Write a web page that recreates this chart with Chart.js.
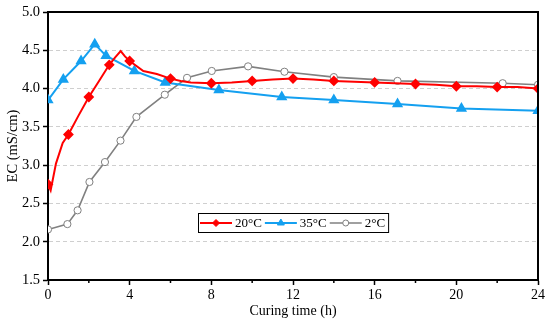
<!DOCTYPE html>
<html>
<head>
<meta charset="utf-8">
<script src="https://cdn.jsdelivr.net/npm/chart.js@4.4.0/dist/chart.umd.min.js"></script>
<style>
  html, body { margin: 0; padding: 0; background: #fff; }
  #wrap { width: 550px; height: 323px; }
</style>
</head>
<body>
<div id="wrap"><canvas id="myChart" width="550" height="323"></canvas></div>
<script>
// 20°C - dense record, markers only at some times
const redTime = [0, 0.13, 0.39, 0.72, 1, 1.5, 2, 2.5, 3, 3.3, 3.56, 3.77, 4, 4.67, 5.33, 6, 6.5, 7, 8, 9, 10, 11, 12, 13, 14, 15, 16, 17, 18, 19, 20, 21, 22, 23, 24];
const redEC = [2.75, 2.67, 3.02, 3.29, 3.40, 3.65, 3.89, 4.10, 4.31, 4.41, 4.49, 4.42, 4.36, 4.23, 4.19, 4.13, 4.10, 4.08, 4.07, 4.08, 4.10, 4.12, 4.13, 4.12, 4.10, 4.09, 4.08, 4.07, 4.06, 4.05, 4.03, 4.03, 4.02, 4.02, 4.00];
const redMarkers = [0, 1, 2, 3, 4, 6, 8, 10, 12, 14, 16, 18, 20, 22, 24];

// 35°C
const blueTime = [0, 0.75, 1.62, 2.29, 2.84, 4.23, 5.74, 8.37, 11.45, 14, 17.12, 20.25, 24];
const blueEC = [3.85, 4.12, 4.36, 4.58, 4.43, 4.23, 4.08, 3.98, 3.89, 3.85, 3.80, 3.74, 3.71];

// 2°C
const grayTime = [0, 0.95, 1.45, 2.03, 2.79, 3.55, 4.33, 5.72, 6.81, 8.02, 9.8, 11.58, 14, 17.12, 22.27, 24];
const grayEC = [2.16, 2.23, 2.41, 2.78, 3.04, 3.32, 3.63, 3.92, 4.14, 4.23, 4.29, 4.22, 4.15, 4.10, 4.07, 4.05];

const xTicks = [0, 4, 8, 12, 16, 20, 24];
const FONT = "'Liberation Serif', 'Times New Roman', serif";

function toPoints(xs, ys) {
    return xs.map((x, i) => ({ x: x, y: ys[i] }));
}

const frameAndLegend = {
    id: 'frameAndLegend',
    afterDraw(chart) {
        const { ctx, chartArea, scales } = chart;
        ctx.save();
        // top/right frame
        ctx.strokeStyle = '#000';
        ctx.lineWidth = 2;
        ctx.beginPath();
        ctx.moveTo(chartArea.left - 1, chartArea.top);
        ctx.lineTo(chartArea.right, chartArea.top);
        ctx.lineTo(chartArea.right, chartArea.bottom + 1);
        ctx.stroke();

        // short minor ticks on x axis
        ctx.lineWidth = 1.5;
        for (let t = 2; t < 24; t += 4) {
            const px = scales.x.getPixelForValue(t);
            ctx.beginPath();
            ctx.moveTo(px, chartArea.bottom);
            ctx.lineTo(px, chartArea.bottom + 3);
            ctx.stroke();
        }

        // legend box
        ctx.font = '13px ' + FONT;
        const items = chart.data.datasets;
        const lineLen = 32;
        let w = 2;
        items.forEach((d) => { w += lineLen + 3 + ctx.measureText(d.label).width + 3; });
        const h = 19;
        const left = Math.round((chartArea.left + chartArea.right) / 2 - w / 2);
        const top = chartArea.bottom - 67;
        ctx.fillStyle = '#fff';
        ctx.fillRect(left, top, w, h);
        ctx.lineWidth = 1;
        ctx.strokeStyle = '#000';
        ctx.strokeRect(left + 0.5, top + 0.5, w, h);

        let x = left + 2;
        const cy = top + h / 2 + 0.5;
        items.forEach((d) => {
            ctx.strokeStyle = d.borderColor;
            ctx.lineWidth = d.borderWidth;
            ctx.beginPath();
            ctx.moveTo(x, cy);
            ctx.lineTo(x + lineLen, cy);
            ctx.stroke();
            ctx.fillStyle = d.pointBackgroundColor;
            ctx.strokeStyle = d.pointBorderColor;
            ctx.lineWidth = 1;
            Chart.helpers.drawPoint(ctx, {
                pointStyle: d.pointStyle,
                radius: d.legendRadius,
                borderWidth: 1
            }, x + lineLen / 2, cy);
            x += lineLen + 3;
            ctx.fillStyle = '#000';
            ctx.textBaseline = 'middle';
            ctx.fillText(d.label, x, cy + 1);
            x += ctx.measureText(d.label).width + 3;
        });
        ctx.restore();
    }
};

const ctx = document.getElementById('myChart');

const chart = new Chart(ctx, {
    type: 'line',
    data: {
        datasets: [{
            label: '20°C',
            data: toPoints(redTime, redEC),
            borderColor: '#ff0000',
            backgroundColor: '#ff0000',
            pointBackgroundColor: '#ff0000',
            pointBorderColor: '#ff0000',
            borderWidth: 2,
            pointStyle: 'rectRot',
            legendRadius: 3.5,
            pointRadius: (c) => (c.raw && redMarkers.includes(c.raw.x) ? 4 : 0),
            tension: 0,
        }, {
            label: '35°C',
            data: toPoints(blueTime, blueEC),
            borderColor: '#14a0f0',
            backgroundColor: '#14a0f0',
            pointBackgroundColor: '#14a0f0',
            pointBorderColor: '#14a0f0',
            borderWidth: 2,
            pointStyle: 'triangle',
            legendRadius: 4,
            pointRadius: 4.5,
            tension: 0,
        }, {
            label: '2°C',
            data: toPoints(grayTime, grayEC),
            borderColor: '#808080',
            backgroundColor: '#ffffff',
            pointBackgroundColor: '#ffffff',
            pointBorderColor: '#808080',
            borderWidth: 1.6,
            pointStyle: 'circle',
            legendRadius: 3,
            pointRadius: 3.6,
            pointBorderWidth: 1,
            tension: 0,
        }]
    },
    options: {
        responsive: false,
        animation: false,
        layout: { padding: { top: 12, right: 12, left: 0, bottom: 0 } },
        plugins: {
            legend: { display: false },
            tooltip: { enabled: false }
        },
        scales: {
            x: {
                type: 'linear',
                min: 0,
                max: 24,
                afterFit: (s) => { s.height = 43; },
                afterBuildTicks: (s) => { s.ticks = xTicks.map((v) => ({ value: v })); },
                ticks: {
                    autoSkip: false,
                    maxRotation: 0,
                    padding: 2,
                    color: '#000',
                    font: { family: FONT, size: 14 }
                },
                grid: {
                    drawOnChartArea: false,
                    tickColor: '#000',
                    tickLength: 5,
                    tickWidth: 1.5
                },
                border: { color: '#000', width: 2 },
                title: {
                    display: true,
                    text: 'Curing time (h)',
                    color: '#000',
                    font: { family: FONT, size: 14 },
                    padding: { top: 0, bottom: 3 }
                }
            },
            y: {
                min: 1.5,
                max: 5.0,
                afterFit: (s) => { s.width = 48; },
                ticks: {
                    stepSize: 0.5,
                    padding: 3,
                    color: '#000',
                    font: { family: FONT, size: 14.5 },
                    callback: (v) => v.toFixed(1)
                },
                grid: {
                    color: (c) => (c.tick && (c.tick.value <= 1.5 || c.tick.value >= 5) ? 'rgba(0,0,0,0)' : '#cfcfcf'),
                    lineWidth: 1,
                    tickColor: '#000',
                    tickLength: 5,
                    tickWidth: 1.5
                },
                border: { color: '#000', width: 2, dash: [4, 3] },
                title: {
                    display: true,
                    text: 'EC (mS/cm)',
                    color: '#000',
                    font: { family: FONT, size: 14.5 },
                    padding: { top: 4, bottom: 0 }
                }
            }
        }
    },
    plugins: [frameAndLegend]
});
</script>
</body>
</html>
